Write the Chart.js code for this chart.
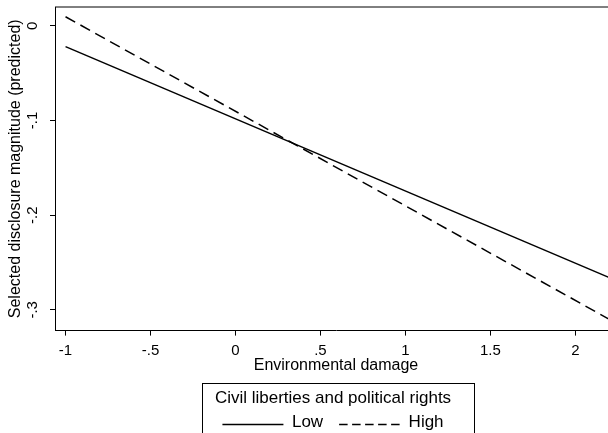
<!DOCTYPE html>
<html>
<head>
<meta charset="utf-8">
<script src="https://cdn.jsdelivr.net/npm/chart.js@4.4.1/dist/chart.umd.min.js"></script>
<style>
  html, body { margin: 0; padding: 0; background: #fff; }
  #wrap { width: 608px; height: 433px; overflow: hidden; }
  canvas { display: block; }
</style>
</head>
<body>
<div id="wrap"><canvas id="chart" width="640" height="460"></canvas></div>
<script>
// predicted values (ends of the two lines)
const damage = [-1, 2.2];
const lowRights = [-0.022, -0.266];
const highRights = [0.0095, -0.310];
const seriesNames = ['Low', 'High'];

const xTicks = [-1, -0.5, 0, 0.5, 1, 1.5, 2];
const xTickLabels = ['-1', '-.5', '0', '.5', '1', '1.5', '2'];
const yTicks = [-0.3, -0.2, -0.1, 0];
const yTickLabels = ['-.3', '-.2', '-.1', '0'];

const FONT = "'Liberation Sans', Arial, sans-serif";
Chart.defaults.font.family = FONT;
Chart.defaults.color = '#000';

const KEY_LEN = 61;      // length of the legend sample line
const LEGEND_SHIFT = -3; // legend sits a bit left of the plot centre

function pts(xs, ys) {
  return xs.map((x, i) => ({x: x, y: ys[i]}));
}

// top side of the box round the plot (right side is outside the picture)
const plotFrame = {
  id: 'plotFrame',
  afterLayout(chart) {
    chart.legend.left += LEGEND_SHIFT;
    chart.legend.right += LEGEND_SHIFT;
  },
  beforeDatasetsDraw(chart) {
    const {ctx, chartArea: a} = chart;
    ctx.save();
    ctx.strokeStyle = '#000';
    ctx.lineWidth = 1;
    ctx.beginPath();
    ctx.moveTo(a.left, a.top);
    ctx.lineTo(a.right, a.top);
    ctx.stroke();
    ctx.restore();
  }
};

// legend box and the line samples
const legendFrame = {
  id: 'legendFrame',
  afterDraw(chart) {
    const lg = chart.legend;
    const ctx = chart.ctx;
    const cx = (lg.left + lg.right) / 2 - LEGEND_SHIFT;
    ctx.save();
    ctx.strokeStyle = '#000';
    ctx.lineWidth = 1;
    ctx.strokeRect(Math.round(cx - 134) + 0.5, Math.round(lg.top + 7) + 0.5, 272, 80);
    lg.legendItems.forEach((it, i) => {
      const hb = lg.legendHitBoxes[i];
      const y = hb.top + hb.height / 2 + 2;
      ctx.lineWidth = 1.5;
      ctx.setLineDash(it.keyDash);
      ctx.beginPath();
      ctx.moveTo(hb.left, y);
      ctx.lineTo(hb.left + KEY_LEN, y);
      ctx.stroke();
    });
    ctx.restore();
  }
};

new Chart(document.getElementById('chart'), {
  type: 'scatter',
  data: {
    datasets: [
      {
        label: seriesNames[0],
        data: pts(damage, lowRights),
        showLine: true,
        borderColor: '#000',
        backgroundColor: '#000',
        borderWidth: 1.5,
        pointRadius: 0
      },
      {
        label: seriesNames[1],
        data: pts(damage, highRights),
        showLine: true,
        borderColor: '#000',
        backgroundColor: '#000',
        borderWidth: 1.5,
        borderDash: [11, 6],
        pointRadius: 0
      }
    ]
  },
  options: {
    responsive: false,
    animation: false,
    layout: { padding: { left: 0, right: 23, top: 7, bottom: 19 } },
    scales: {
      x: {
        type: 'linear',
        min: -1.062,
        max: 2.245,
        afterBuildTicks: s => { s.ticks = xTicks.map(v => ({value: v})); },
        afterFit: s => { s.height = 45; s.paddingLeft = 0; s.paddingRight = 0; },
        ticks: {
          autoSkip: false,
          maxRotation: 0,
          padding: 6,
          font: { size: 15 },
          callback: (v, i) => xTickLabels[i]
        },
        grid: { drawOnChartArea: false, tickLength: 5, color: '#000', tickColor: '#000' },
        border: { display: true, color: '#000', width: 1 },
        title: {
          display: true,
          text: 'Environmental damage',
          font: { size: 16 },
          padding: { top: 0, bottom: 0 }
        }
      },
      y: {
        type: 'linear',
        min: -0.3219,
        max: 0.0198,
        afterBuildTicks: s => { s.ticks = yTicks.map(v => ({value: v})); },
        afterFit: s => { s.width = 55; s.paddingTop = 0; s.paddingBottom = 0; },
        ticks: {
          autoSkip: false,
          minRotation: 90,
          maxRotation: 90,
          crossAlign: 'center',
          padding: 8,
          font: { size: 15 },
          callback: (v, i) => yTickLabels[i]
        },
        grid: { drawOnChartArea: false, tickLength: 5, color: '#000', tickColor: '#000' },
        border: { display: true, color: '#000', width: 1 },
        title: {
          display: true,
          text: 'Selected disclosure magnitude (predicted)',
          font: { size: 16 },
          padding: { top: 6, bottom: 0 }
        }
      }
    },
    plugins: {
      tooltip: { enabled: false },
      legend: {
        position: 'bottom',
        fullSize: false,
        title: {
          display: true,
          text: 'Civil liberties and political rights',
          font: { size: 17 },
          padding: { top: 14, bottom: -12 }
        },
        labels: {
          boxWidth: KEY_LEN,
          boxHeight: 17,
          padding: 16,
          font: { size: 17 },
          generateLabels(chart) {
            const items = Chart.defaults.plugins.legend.labels.generateLabels(chart);
            items.forEach(it => {
              it.keyDash = (it.lineDash && it.lineDash.length) ? [8.5, 4.5] : [];
              it.fillStyle = 'rgba(0,0,0,0)';
              it.strokeStyle = 'rgba(0,0,0,0)';
              it.lineWidth = 0;
            });
            return items;
          }
        }
      }
    }
  },
  plugins: [plotFrame, legendFrame]
});
</script>
</body>
</html>
